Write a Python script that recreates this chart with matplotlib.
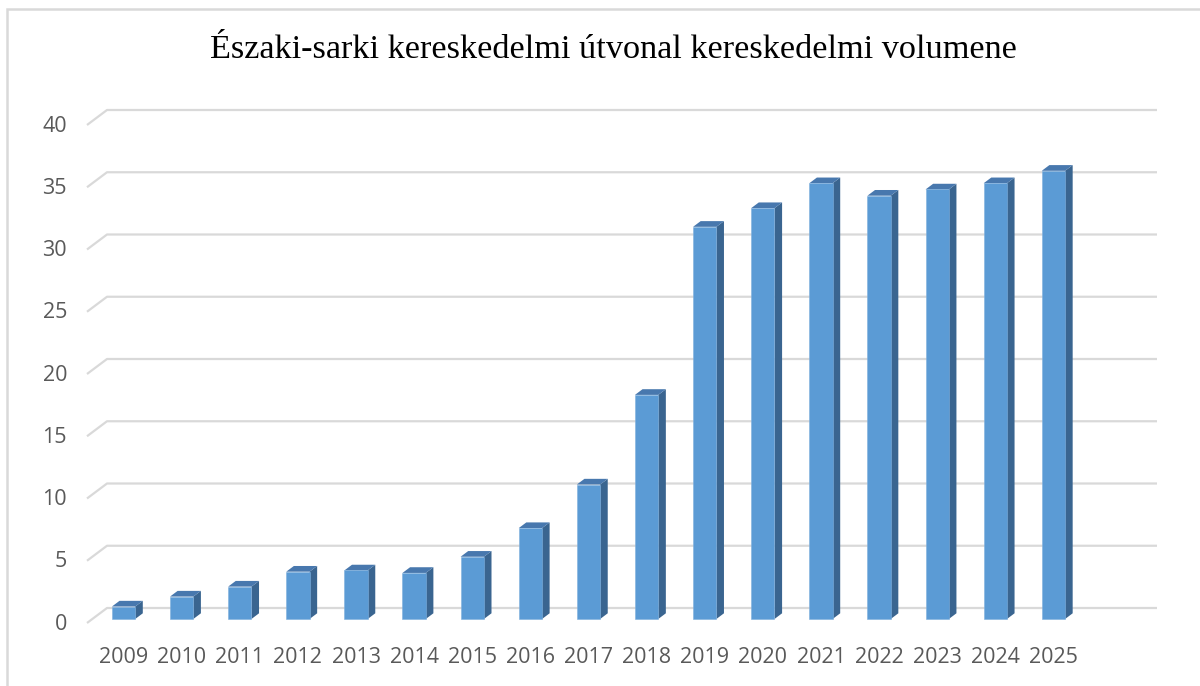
import numpy as np
import matplotlib
matplotlib.use("Agg")
import matplotlib.pyplot as plt
from matplotlib.patches import Polygon, Rectangle

years = [str(y) for y in range(2009, 2026)]
volume = [1.0, 1.8, 2.6, 3.8, 3.9, 3.7, 5.0, 7.3, 10.8, 18.0,
          31.5, 33.0, 35.0, 34.0, 34.5, 35.0, 36.0]
yticks = [0, 5, 10, 15, 20, 25, 30, 35, 40]
title = "Északi-sarki kereskedelmi útvonal kereskedelmi volumene"

front_col = "#5B9BD5"
side_col = "#3A6590"
top_col = "#4878AE"
grid_col = "#D9D9D9"
text_col = "#595959"

fig = plt.figure(figsize=(12, 6.86), dpi=100)
# front plane of the plot area
ax = fig.add_axes([87 / 1200, 63 / 686, 1050 / 1200, 498 / 686])
ax.set_xlim(-0.537, 17.53)
ax.set_ylim(0, 40)
ax.axis("off")

# depth of the floor/wall, in data units (20px right, 15px up)
px_x = 1050 / (17.53 + 0.537)
px_y = 498 / 40
dep_x = 20 / px_x
dep_y = 15 / px_y

# gridlines: short diagonal then along the back wall
for t in yticks:
    ax.plot([-0.537, -0.537 + dep_x, 17.53 + dep_x], [t, t + dep_y, t + dep_y],
            color=grid_col, lw=1.6, solid_capstyle="butt", zorder=1, clip_on=False)
    ax.text(-0.537 - 20 / px_x, t - 0.1, str(t), ha="right", va="center",
            fontsize=15.5, color=text_col, family="Open Sans")

# bars sit a bit behind the front plane
f0 = 0.267
f1 = 0.647
w = 23.3 / px_x
x = np.arange(len(years))
xs = x + f0 * dep_x
ys = f0 * dep_y
bx = (f1 - f0) * dep_x
by = (f1 - f0) * dep_y
ax.bar(xs, volume, width=w, bottom=ys, color=front_col, zorder=3,
       edgecolor="#7FB0DE", linewidth=0.4)
for xi, v in zip(xs, volume):
    l, r = xi - w / 2, xi + w / 2
    top = ys + v
    ax.add_patch(Polygon([[r, ys], [r + bx, ys + by], [r + bx, top + by], [r, top]],
                         closed=True, facecolor=side_col, edgecolor="none", zorder=2))
    ax.add_patch(Polygon([[l, top], [r, top], [r + bx, top + by], [l + bx, top + by]],
                         closed=True, facecolor=top_col, edgecolor="none", zorder=2))

# year labels
for xi, lab in zip(xs, years):
    ax.text(xi, ys - 3.1, lab, ha="center", va="center", fontsize=15.5,
            color=text_col, family="Open Sans")

fig.text(0.511, 1 - 50 / 686, title, ha="center", va="center",
         fontsize=24.7, family="Liberation Serif", color="#000000")

# chart border
fig.patches.append(Rectangle((7 / 1200, -0.05), 1.2, 1 - 9 / 686 + 0.05,
                             transform=fig.transFigure, fill=False,
                             edgecolor=grid_col, lw=1.8))

fig.savefig("out.png", dpi=100)
